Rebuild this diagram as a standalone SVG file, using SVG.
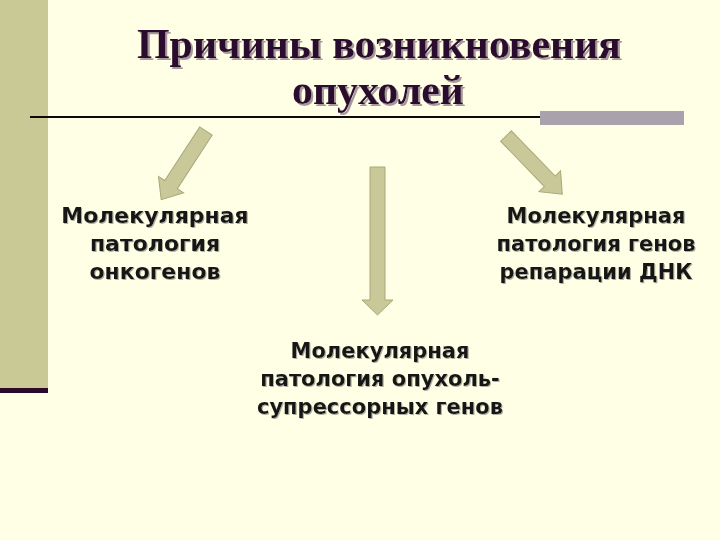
<svg xmlns="http://www.w3.org/2000/svg" width="720" height="540" viewBox="0 0 720 540">
<defs>
<style>
.title{font-family:"Liberation Serif","Times New Roman",serif;font-weight:bold;font-size:43px;text-anchor:middle;fill:#2B0C2E}
.lbl{font-family:"DejaVu Sans",Verdana,sans-serif;font-weight:bold;font-size:21px;text-anchor:middle;fill:#141414}
.big{font-size:22px}
.arrow{fill:#C8C898;stroke:#A8A87A;stroke-width:1}
</style>
<filter id="tsh" x="-5%" y="-20%" width="110%" height="140%">
<feOffset in="SourceAlpha" dx="2" dy="2" result="o"/>
<feFlood flood-color="#A8979C"/>
<feComposite in2="o" operator="in" result="s"/>
<feMerge><feMergeNode in="s"/><feMergeNode in="SourceGraphic"/></feMerge>
</filter>
<filter id="lsh" x="-5%" y="-20%" width="110%" height="140%">
<feOffset in="SourceAlpha" dx="1" dy="1" result="o"/>
<feFlood flood-color="#B0B0A0"/>
<feComposite in2="o" operator="in" result="s"/>
<feMerge><feMergeNode in="s"/><feMergeNode in="SourceGraphic"/></feMerge>
</filter>
</defs>
<rect x="0" y="0" width="720" height="540" fill="#FFFFE5"/>
<rect x="0" y="0" width="48" height="388" fill="#C9C995"/>
<rect x="0" y="388" width="48" height="5" fill="#2A0A2C"/>
<line x1="30" y1="117" x2="545" y2="117" stroke="#0A0A0A" stroke-width="2.2"/>
<rect x="540" y="111" width="144" height="14" fill="#A9A2AC"/>

<g id="title" filter="url(#tsh)">
<text class="title" x="379" y="58" textLength="484" lengthAdjust="spacingAndGlyphs">Причины возникновения</text>
<text class="title" x="378" y="104" textLength="172" lengthAdjust="spacingAndGlyphs">опухолей</text>
</g>

<g id="connectors">
<path class="arrow" transform="translate(206,131) rotate(123.1)" d="M0,-7.5 H64 V-15 L82,0 L64,15 V7.5 H0 Z"/>
<path class="arrow" transform="translate(506,136) rotate(46)" d="M0,-7.5 H63 V-15 L81,0 L63,15 V7.5 H0 Z"/>
<path class="arrow" transform="translate(377.5,167) rotate(90)" d="M0,-7.5 H133 V-15.5 L148,0 L133,15.5 V7.5 H0 Z"/>
</g>

<g id="node-oncogenes" filter="url(#lsh)">
<text class="lbl big" x="155" y="223">Молекулярная</text>
<text class="lbl big" x="155" y="251">патология</text>
<text class="lbl big" x="155" y="279">онкогенов</text>
</g>

<g id="node-repair" filter="url(#lsh)">
<text class="lbl" x="596" y="223">Молекулярная</text>
<text class="lbl" x="596" y="251">патология генов</text>
<text class="lbl" x="596" y="279">репарации ДНК</text>
</g>

<g id="node-suppressor" filter="url(#lsh)">
<text class="lbl" x="380" y="358">Молекулярная</text>
<text class="lbl" x="380" y="386">патология опухоль-</text>
<text class="lbl" x="380" y="414">супрессорных генов</text>
</g>
</svg>
